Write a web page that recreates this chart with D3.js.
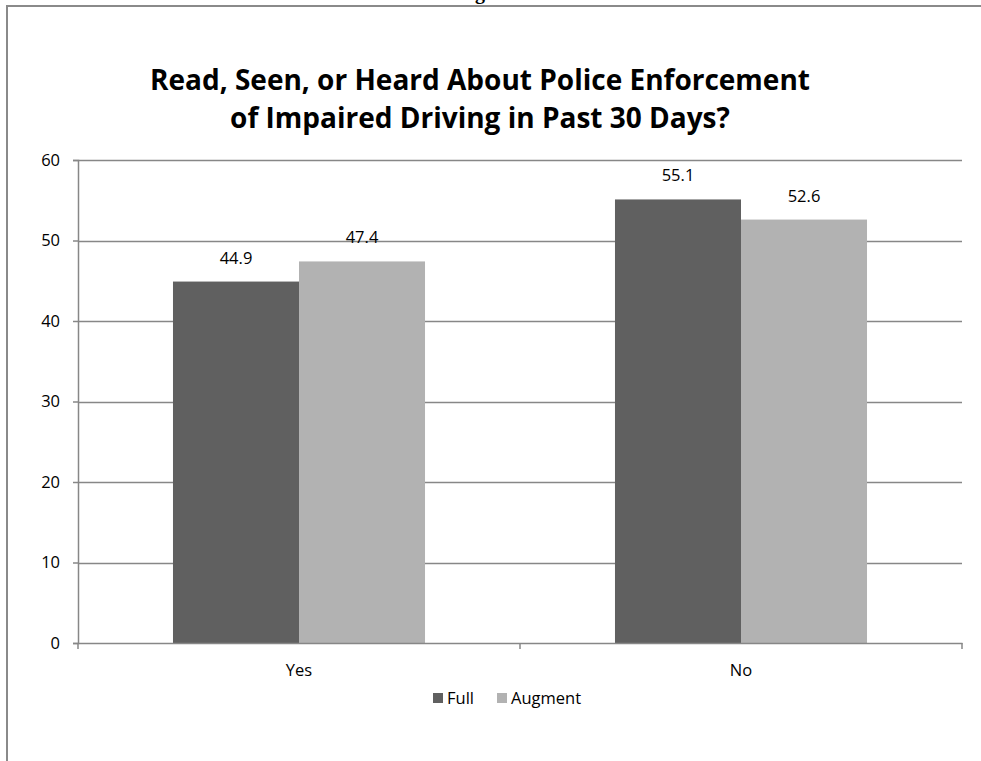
<!DOCTYPE html>
<html>
<head>
<meta charset="utf-8">
<script src="https://cdn.jsdelivr.net/npm/d3@7"></script>
<style>
  html, body { margin: 0; padding: 0; background: #fff; }
  svg { display: block; }
</style>
</head>
<body>
<svg id="chart" width="981" height="761"></svg>
<script>
// Survey responses by group
const categories = ["Yes", "No"];
const seriesNames = ["Full", "Augment"];
const fullValues = [44.9, 55.1];
const augmentValues = [47.4, 52.6];
const yTicks = [0, 10, 20, 30, 40, 50, 60];
const titleLines = [
  "Read, Seen, or Heard About Police Enforcement",
  "of Impaired Driving in Past 30 Days?"
];
const colors = { Full: "#606060", Augment: "#b2b2b2" };

const svg = d3.select("#chart");
const font = "'Open Sans', 'Noto Sans', sans-serif";

// Outer frame (left and top edges)
svg.append("path")
  .attr("d", "M7,761 V6 H981")
  .attr("fill", "none")
  .attr("stroke", "#8a8a8a")
  .attr("stroke-width", 2);

// Caption above the frame, mostly outside the page
svg.append("text")
  .attr("x", 493).attr("y", -1)
  .attr("text-anchor", "middle")
  .attr("font-family", "'Liberation Serif', serif")
  .attr("font-weight", "bold")
  .attr("font-size", 20)
  .attr("fill", "#000")
  .text("Figure 3");

// Title
svg.append("g").selectAll("text")
  .data(titleLines)
  .join("text")
  .attr("x", 480)
  .attr("y", (d, i) => 90 + i * 38)
  .attr("text-anchor", "middle")
  .attr("font-family", font)
  .attr("font-weight", "bold")
  .attr("font-size", 28)
  .attr("fill", "#000")
  .text(d => d);

const plot = { left: 78, right: 962, top: 160, bottom: 643 };

const y = d3.scaleLinear().domain([0, 60]).range([plot.bottom, plot.top]);
const x0 = d3.scaleBand().domain(categories).range([plot.left, plot.right]).paddingInner(0).paddingOuter(0);
const groupPad = 0.2149; // gap fraction on each side of a bar pair
const x1 = d3.scaleBand().domain(seriesNames)
  .range([x0.bandwidth() * groupPad, x0.bandwidth() * (1 - groupPad)]);

// Gridlines
svg.append("g").selectAll("line")
  .data(yTicks.filter(t => t > 0))
  .join("line")
  .attr("x1", plot.left).attr("x2", plot.right)
  .attr("y1", d => Math.round(y(d)) + 0.5).attr("y2", d => Math.round(y(d)) + 0.5)
  .attr("stroke", "#878787").attr("stroke-width", 1.5);

// Bars
const rows = categories.map((c, i) => ({ cat: c, Full: fullValues[i], Augment: augmentValues[i] }));
const groups = svg.append("g").selectAll("g")
  .data(rows)
  .join("g")
  .attr("transform", d => `translate(${x0(d.cat)},0)`);

groups.selectAll("rect")
  .data(d => seriesNames.map(s => ({ s, v: d[s] })))
  .join("rect")
  .attr("x", d => x1(d.s))
  .attr("width", x1.bandwidth())
  .attr("y", d => y(d.v))
  .attr("height", d => y(0) - y(d.v))
  .attr("fill", d => colors[d.s]);

// Value labels
groups.selectAll("text")
  .data(d => seriesNames.map(s => ({ s, v: d[s] })))
  .join("text")
  .attr("x", d => x1(d.s) + x1.bandwidth() / 2)
  .attr("y", d => y(d.v) - 18)
  .attr("text-anchor", "middle")
  .attr("font-family", font)
  .attr("font-size", 16.5)
  .attr("fill", "#000")
  .text(d => d.v.toFixed(1));

// Y axis
const yAxis = d3.axisLeft(y).tickValues(yTicks).tickSize(5).tickPadding(13).tickFormat(d3.format("d"));
const gy = svg.append("g").attr("transform", `translate(${plot.left},0)`).call(yAxis);
gy.select(".domain").attr("stroke", "#878787").attr("stroke-width", 1.5);
gy.selectAll(".tick line").attr("stroke", "#878787").attr("stroke-width", 1.5);
gy.selectAll(".tick text").attr("font-family", font).attr("font-size", 16.5).attr("fill", "#000");

// X axis
const xAxis = d3.axisBottom(x0).tickSize(0).tickPadding(21);
const gx = svg.append("g").attr("transform", `translate(0,${plot.bottom})`).call(xAxis);
gx.select(".domain").attr("stroke", "#878787").attr("stroke-width", 1.5);
gx.selectAll(".tick text").attr("font-family", font).attr("font-size", 16.5).attr("fill", "#000");

// Category boundary ticks
const bounds = [plot.left, ...categories.slice(1).map(c => x0(c)), plot.right];
svg.append("g").selectAll("line")
  .data(bounds)
  .join("line")
  .attr("x1", d => d).attr("x2", d => d)
  .attr("y1", plot.bottom).attr("y2", plot.bottom + 6)
  .attr("stroke", "#878787").attr("stroke-width", 1.5);

// Legend
const legendItems = [
  { name: "Full", x: 433 },
  { name: "Augment", x: 497 }
];
const lg = svg.append("g").selectAll("g")
  .data(legendItems)
  .join("g")
  .attr("transform", d => `translate(${d.x},698)`);
lg.append("rect")
  .attr("x", 0).attr("y", -5)
  .attr("width", 10).attr("height", 10)
  .attr("fill", d => colors[d.name]);
lg.append("text")
  .attr("x", 14).attr("y", 6)
  .attr("font-family", font)
  .attr("font-size", 16.5)
  .attr("fill", "#000")
  .text(d => d.name);
</script>
</body>
</html>
